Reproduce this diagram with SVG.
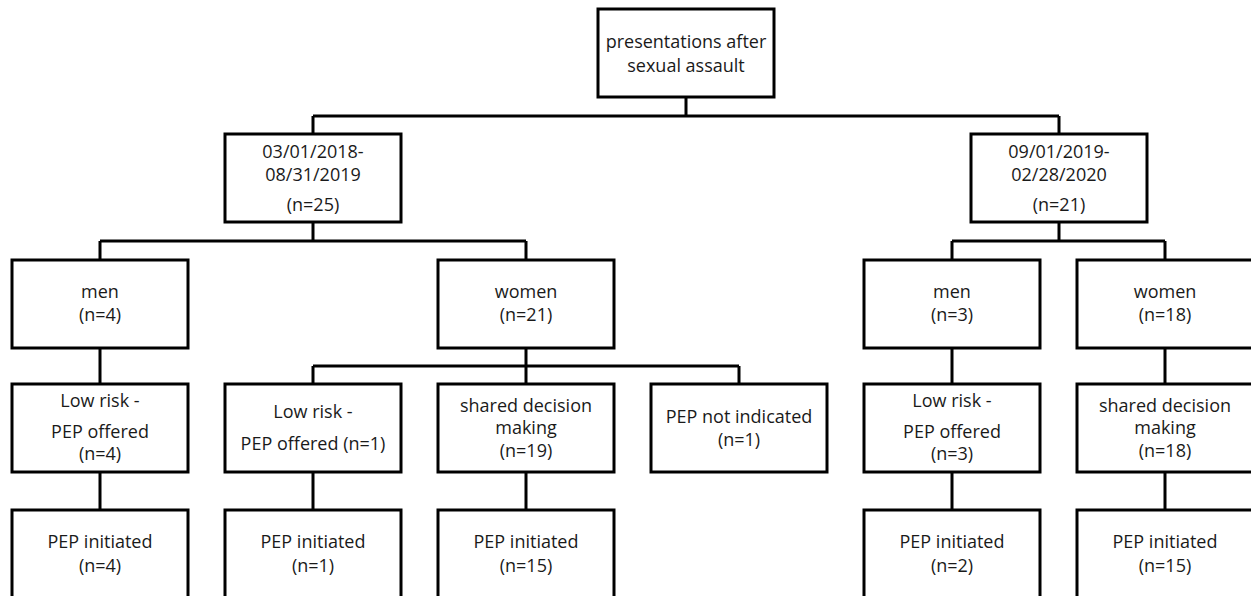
<svg xmlns="http://www.w3.org/2000/svg" width="1251" height="596" viewBox="0 0 1251 596">
<style>
.b{fill:#fff;stroke:#000;stroke-width:3}
.c{fill:none;stroke:#000;stroke-width:3}
text{font-family:"Open Sans","Liberation Sans",sans-serif;font-size:18px;fill:#1a1a1a;text-anchor:middle}
</style>
<rect width="1251" height="596" fill="#fff"/>
<g id="connectors">
<path class="c" d="M686,97V116M313,116H1059M313,116V134M1059,116V134"/>
<path class="c" d="M313,222V241M100,241H526M100,241V260M526,241V260"/>
<path class="c" d="M1059,222V241M952,241H1165M952,241V260M1165,241V260"/>
<path class="c" d="M100,347V384M526,347V366M313,366H739M313,366V384M526,366V384M739,366V384M952,347V384M1165,347V384"/>
<path class="c" d="M100,472V510M313,472V510M526,472V510M952,472V510M1165,472V510"/>
</g>
<g id="n0"><rect class="b" x="598" y="9" width="176" height="88"/><text x="686" y="48">presentations after</text><text x="686" y="72">sexual assault</text></g>
<g id="n1"><rect class="b" x="225" y="134" width="176" height="88"/><text x="313" y="158">03/01/2018-</text><text x="313" y="181">08/31/2019</text><text x="313" y="211">(n=25)</text></g>
<g id="n2"><rect class="b" x="971" y="134" width="176" height="88"/><text x="1059" y="158">09/01/2019-</text><text x="1059" y="181">02/28/2020</text><text x="1059" y="211">(n=21)</text></g>
<g id="n3"><rect class="b" x="12" y="260" width="176" height="88"/><text x="100" y="298">men</text><text x="100" y="321">(n=4)</text></g>
<g id="n4"><rect class="b" x="438" y="260" width="176" height="88"/><text x="526" y="298">women</text><text x="526" y="321">(n=21)</text></g>
<g id="n5"><rect class="b" x="864" y="260" width="176" height="88"/><text x="952" y="298">men</text><text x="952" y="321">(n=3)</text></g>
<g id="n6"><rect class="b" x="1077" y="260" width="176" height="88"/><text x="1165" y="298">women</text><text x="1165" y="321">(n=18)</text></g>
<g id="n7"><rect class="b" x="12" y="384" width="176" height="88"/><text x="100" y="407">Low risk -</text><text x="100" y="438">PEP offered</text><text x="100" y="460">(n=4)</text></g>
<g id="n8"><rect class="b" x="225" y="384" width="176" height="88"/><text x="313" y="418">Low risk -</text><text x="313" y="450">PEP offered (n=1)</text></g>
<g id="n9"><rect class="b" x="438" y="384" width="176" height="88"/><text x="526" y="412">shared decision</text><text x="526" y="434">making</text><text x="526" y="457">(n=19)</text></g>
<g id="n10"><rect class="b" x="651" y="384" width="176" height="88"/><text x="739" y="423">PEP not indicated</text><text x="739" y="446">(n=1)</text></g>
<g id="n11"><rect class="b" x="864" y="384" width="176" height="88"/><text x="952" y="407">Low risk -</text><text x="952" y="438">PEP offered</text><text x="952" y="460">(n=3)</text></g>
<g id="n12"><rect class="b" x="1077" y="384" width="176" height="88"/><text x="1165" y="412">shared decision</text><text x="1165" y="434">making</text><text x="1165" y="457">(n=18)</text></g>
<g id="n13"><rect class="b" x="12" y="510" width="176" height="90"/><text x="100" y="548">PEP initiated</text><text x="100" y="572">(n=4)</text></g>
<g id="n14"><rect class="b" x="225" y="510" width="176" height="90"/><text x="313" y="548">PEP initiated</text><text x="313" y="572">(n=1)</text></g>
<g id="n15"><rect class="b" x="438" y="510" width="176" height="90"/><text x="526" y="548">PEP initiated</text><text x="526" y="572">(n=15)</text></g>
<g id="n16"><rect class="b" x="864" y="510" width="176" height="90"/><text x="952" y="548">PEP initiated</text><text x="952" y="572">(n=2)</text></g>
<g id="n17"><rect class="b" x="1077" y="510" width="176" height="90"/><text x="1165" y="548">PEP initiated</text><text x="1165" y="572">(n=15)</text></g>
</svg>
